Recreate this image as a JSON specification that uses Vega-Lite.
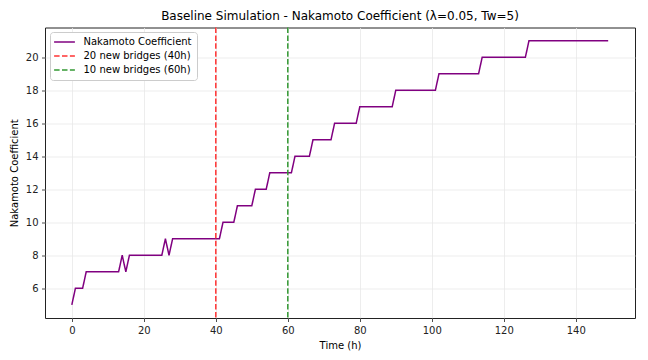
{
  "$schema": "https://vega.github.io/schema/vega-lite/v6.json",
  "width": 590,
  "height": 290.5,
  "autosize": {"type": "none"},
  "padding": {"left": 45, "top": 27.5, "right": 13, "bottom": 42},
  "background": "white",
  "title": {
    "text": "Baseline Simulation - Nakamoto Coefficient (λ=0.05, Tw=5)",
    "font": "DejaVu Sans",
    "fontSize": 12,
    "fontWeight": "normal",
    "color": "#000000",
    "anchor": "middle",
    "frame": "group",
    "offset": 4
  },
  "config": {
    "view": {"stroke": "#222222", "strokeWidth": 1},
    "axis": {
      "labelFont": "DejaVu Sans",
      "labelFontSize": 10,
      "labelColor": "#222222",
      "titleFont": "DejaVu Sans",
      "titleFontSize": 10,
      "titleFontWeight": "normal",
      "titleColor": "#000000",
      "domain": false,
      "tickColor": "#222222",
      "tickSize": 3.5,
      "tickWidth": 0.8,
      "labelPadding": 3.5,
      "grid": true,
      "gridColor": "#e8e8e8",
      "gridWidth": 0.8
    },
    "legend": {
      "title": null,
      "orient": "none",
      "legendX": 5,
      "legendY": 4.5,
      "padding": 5,
      "fillColor": "white",
      "strokeColor": "#cccccc",
      "cornerRadius": 3,
      "labelFont": "DejaVu Sans",
      "labelFontSize": 10,
      "labelColor": "#000000",
      "symbolType": "M-2.6,0H2.6",
      "symbolSize": 64,
      "symbolStrokeWidth": 1.5,
      "symbolOffset": 4.5,
      "labelOffset": 14,
      "rowPadding": 4
    }
  },
  "datasets": {
    "nc": [
      {"t": 0, "nc": 5}, {"t": 1, "nc": 6}, {"t": 2, "nc": 6}, {"t": 3, "nc": 6},
      {"t": 4, "nc": 7}, {"t": 5, "nc": 7}, {"t": 6, "nc": 7}, {"t": 7, "nc": 7}, {"t": 8, "nc": 7},
      {"t": 9, "nc": 7}, {"t": 10, "nc": 7}, {"t": 11, "nc": 7}, {"t": 12, "nc": 7}, {"t": 13, "nc": 7},
      {"t": 14, "nc": 8}, {"t": 15, "nc": 7},
      {"t": 16, "nc": 8}, {"t": 17, "nc": 8}, {"t": 18, "nc": 8}, {"t": 19, "nc": 8}, {"t": 20, "nc": 8},
      {"t": 21, "nc": 8}, {"t": 22, "nc": 8}, {"t": 23, "nc": 8}, {"t": 24, "nc": 8}, {"t": 25, "nc": 8},
      {"t": 26, "nc": 9}, {"t": 27, "nc": 8},
      {"t": 28, "nc": 9}, {"t": 29, "nc": 9}, {"t": 30, "nc": 9}, {"t": 31, "nc": 9}, {"t": 32, "nc": 9},
      {"t": 33, "nc": 9}, {"t": 34, "nc": 9}, {"t": 35, "nc": 9}, {"t": 36, "nc": 9}, {"t": 37, "nc": 9},
      {"t": 38, "nc": 9}, {"t": 39, "nc": 9}, {"t": 40, "nc": 9}, {"t": 41, "nc": 9},
      {"t": 42, "nc": 10}, {"t": 43, "nc": 10}, {"t": 44, "nc": 10}, {"t": 45, "nc": 10},
      {"t": 46, "nc": 11}, {"t": 47, "nc": 11}, {"t": 48, "nc": 11}, {"t": 49, "nc": 11}, {"t": 50, "nc": 11},
      {"t": 51, "nc": 12}, {"t": 52, "nc": 12}, {"t": 53, "nc": 12}, {"t": 54, "nc": 12},
      {"t": 55, "nc": 13}, {"t": 56, "nc": 13}, {"t": 57, "nc": 13}, {"t": 58, "nc": 13}, {"t": 59, "nc": 13},
      {"t": 60, "nc": 13}, {"t": 61, "nc": 13},
      {"t": 62, "nc": 14}, {"t": 63, "nc": 14}, {"t": 64, "nc": 14}, {"t": 65, "nc": 14}, {"t": 66, "nc": 14},
      {"t": 67, "nc": 15}, {"t": 68, "nc": 15}, {"t": 69, "nc": 15}, {"t": 70, "nc": 15}, {"t": 71, "nc": 15},
      {"t": 72, "nc": 15},
      {"t": 73, "nc": 16}, {"t": 74, "nc": 16}, {"t": 75, "nc": 16}, {"t": 76, "nc": 16}, {"t": 77, "nc": 16},
      {"t": 78, "nc": 16}, {"t": 79, "nc": 16},
      {"t": 80, "nc": 17}, {"t": 81, "nc": 17}, {"t": 82, "nc": 17}, {"t": 83, "nc": 17}, {"t": 84, "nc": 17},
      {"t": 85, "nc": 17}, {"t": 86, "nc": 17}, {"t": 87, "nc": 17}, {"t": 88, "nc": 17}, {"t": 89, "nc": 17},
      {"t": 90, "nc": 18}, {"t": 91, "nc": 18}, {"t": 92, "nc": 18}, {"t": 93, "nc": 18}, {"t": 94, "nc": 18},
      {"t": 95, "nc": 18}, {"t": 96, "nc": 18}, {"t": 97, "nc": 18}, {"t": 98, "nc": 18}, {"t": 99, "nc": 18},
      {"t": 100, "nc": 18}, {"t": 101, "nc": 18},
      {"t": 102, "nc": 19}, {"t": 103, "nc": 19}, {"t": 104, "nc": 19}, {"t": 105, "nc": 19}, {"t": 106, "nc": 19},
      {"t": 107, "nc": 19}, {"t": 108, "nc": 19}, {"t": 109, "nc": 19}, {"t": 110, "nc": 19}, {"t": 111, "nc": 19},
      {"t": 112, "nc": 19}, {"t": 113, "nc": 19},
      {"t": 114, "nc": 20}, {"t": 115, "nc": 20}, {"t": 116, "nc": 20}, {"t": 117, "nc": 20}, {"t": 118, "nc": 20},
      {"t": 119, "nc": 20}, {"t": 120, "nc": 20}, {"t": 121, "nc": 20}, {"t": 122, "nc": 20}, {"t": 123, "nc": 20},
      {"t": 124, "nc": 20}, {"t": 125, "nc": 20}, {"t": 126, "nc": 20},
      {"t": 127, "nc": 21}, {"t": 128, "nc": 21}, {"t": 129, "nc": 21}, {"t": 130, "nc": 21}, {"t": 131, "nc": 21},
      {"t": 132, "nc": 21}, {"t": 133, "nc": 21}, {"t": 134, "nc": 21}, {"t": 135, "nc": 21}, {"t": 136, "nc": 21},
      {"t": 137, "nc": 21}, {"t": 138, "nc": 21}, {"t": 139, "nc": 21}, {"t": 140, "nc": 21}, {"t": 141, "nc": 21},
      {"t": 142, "nc": 21}, {"t": 143, "nc": 21}, {"t": 144, "nc": 21}, {"t": 145, "nc": 21}, {"t": 146, "nc": 21},
      {"t": 147, "nc": 21}, {"t": 148, "nc": 21}, {"t": 149, "nc": 21}
    ],
    "events": [
      {"t": 40, "series": "20 new bridges (40h)"},
      {"t": 60, "series": "10 new bridges (60h)"}
    ]
  },
  "layer": [
    {
      "data": {"name": "nc"},
      "mark": {"type": "line", "strokeWidth": 1.5, "clip": true},
      "encoding": {
        "x": {
          "field": "t",
          "type": "quantitative",
          "scale": {"domain": [-7.45, 156.45], "nice": false, "zero": false},
          "axis": {"title": "Time (h)", "values": [0, 20, 40, 60, 80, 100, 120, 140], "titlePadding": 5}
        },
        "y": {
          "field": "nc",
          "type": "quantitative",
          "scale": {"domain": [4.2, 21.8], "nice": false, "zero": false},
          "axis": {"title": "Nakamoto Coefficient", "values": [6, 8, 10, 12, 14, 16, 18, 20], "titlePadding": 6}
        },
        "color": {
          "datum": "Nakamoto Coefficient",
          "type": "nominal",
          "scale": {
            "domain": ["Nakamoto Coefficient", "20 new bridges (40h)", "10 new bridges (60h)"],
            "range": ["#800080", "#ff3333", "#339933"]
          },
          "legend": {"title": null}
        },
        "strokeDash": {
          "datum": "Nakamoto Coefficient",
          "type": "nominal",
          "scale": {
            "domain": ["Nakamoto Coefficient", "20 new bridges (40h)", "10 new bridges (60h)"],
            "range": [[1, 0], [5.5, 2.4], [5.5, 2.4]]
          },
          "legend": {"title": null}
        }
      }
    },
    {
      "data": {"name": "events"},
      "mark": {"type": "rule", "strokeWidth": 1.5},
      "encoding": {
        "x": {"field": "t", "type": "quantitative"},
        "color": {"field": "series", "type": "nominal", "legend": {"title": null}},
        "strokeDash": {"field": "series", "type": "nominal", "legend": {"title": null}}
      }
    }
  ]
}
